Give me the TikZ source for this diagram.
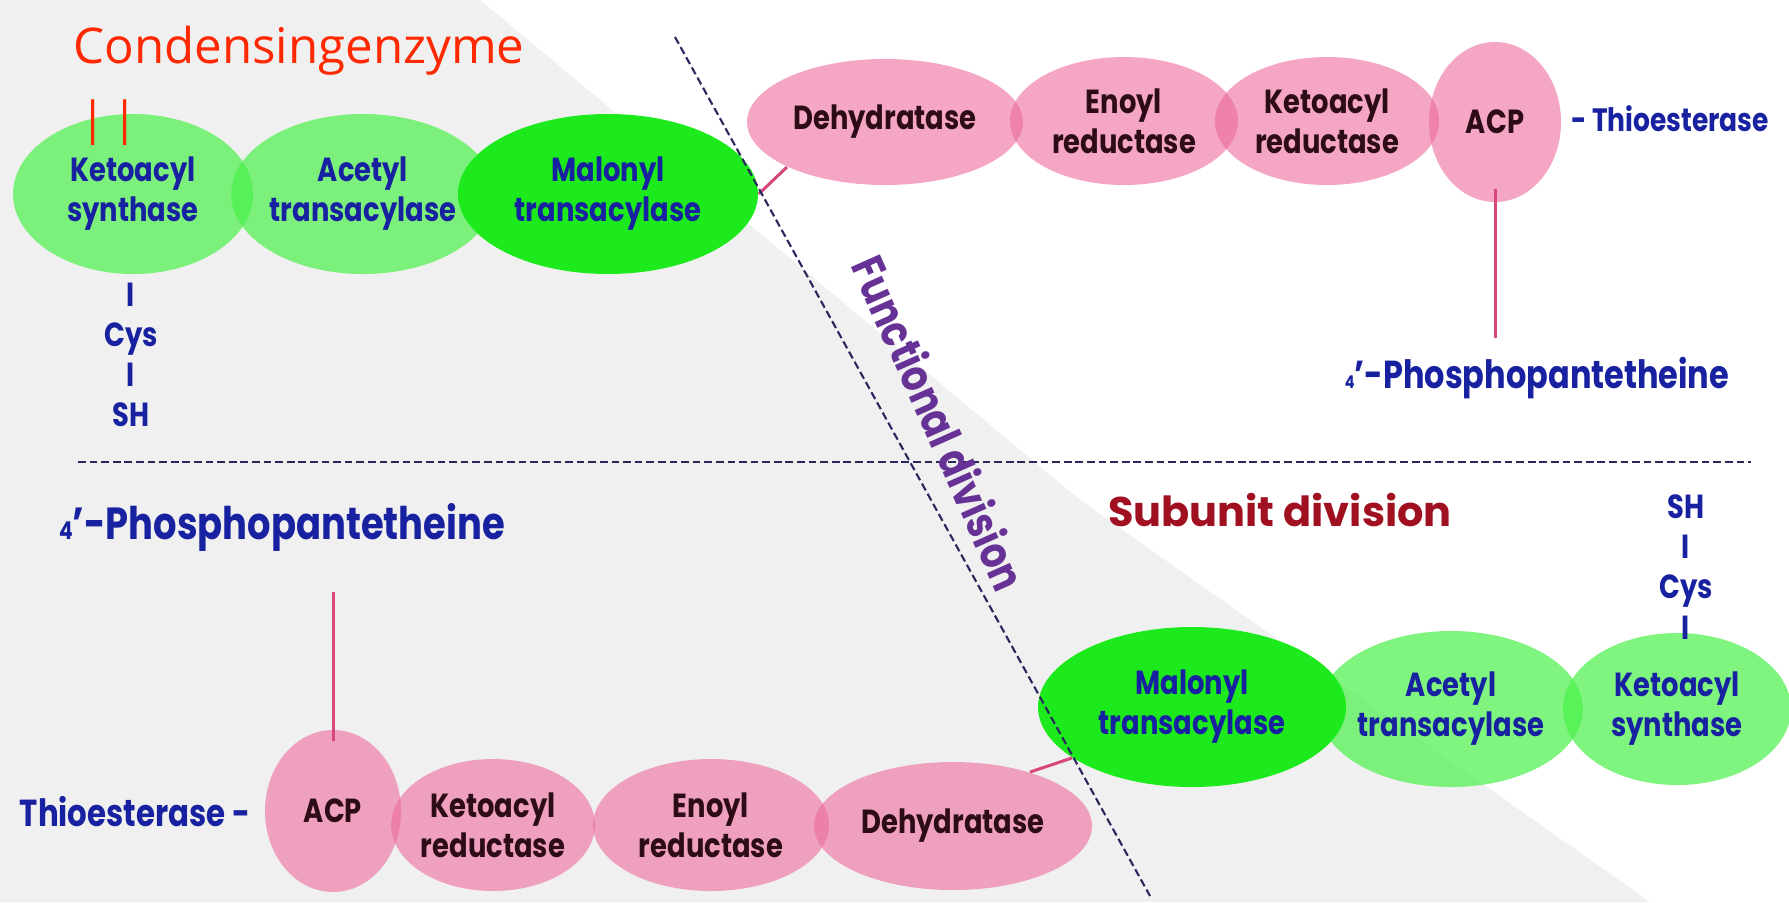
\documentclass[tikz,border=0pt]{standalone}
\usepackage{fontspec}
\setmainfont{Poppins}[FakeStretch=0.82]
\newfontfamily\widefont{Poppins}
\newfontfamily\handfont{Open Sans}
\usetikzlibrary{shapes.geometric}
\definecolor{lightgrn}{RGB}{74,241,74}
\definecolor{darkgrn}{RGB}{28,234,28}
\definecolor{blobpink}{RGB}{237,107,157}
\definecolor{linkpink}{RGB}{214,72,124}
\definecolor{enzblue}{RGB}{24,34,160}
\definecolor{enzdark}{RGB}{45,12,24}
\definecolor{divnavy}{RGB}{40,40,95}
\definecolor{divpurple}{RGB}{102,50,150}
\definecolor{subred}{RGB}{160,16,32}
\definecolor{penred}{RGB}{255,40,0}
\definecolor{bggray}{RGB}{240,240,240}
\newcommand{\enzfont}{\bfseries\fontsize{9.5}{11.4}\selectfont}

\begin{document}
\begin{tikzpicture}[x=0.1mm, y=-0.1mm,
blob/.style = {ellipse, inner sep=0pt, align=center, font=\enzfont, text opacity=1},
lgreen/.style = {blob, fill=lightgrn, fill opacity=0.7, text=enzblue},
dgreen/.style = {blob, fill=darkgrn, text=enzblue},
pinkblob/.style = {blob, fill=blobpink, fill opacity=0.6, text=enzdark},
sidetext/.style = {text=enzblue, font=\enzfont, align=center, inner sep=0pt},
link/.style = {linkpink, line width=0.85pt},
divline/.style = {divnavy, line width=0.6pt, dash pattern=on 2.2pt off 1.1pt}
                ]
    \fill[white] (0,0) rectangle (1789,902);
    \fill[bggray] (0,0) -- (480,0) -- (1080,500) -- (1650,902) -- (0,902) -- cycle;
    \useasboundingbox (0,0) rectangle (1789,902);
    % green part: synthase + transacylases
    \foreach \x/\y/\w/\h/\n/\t in {133/194/24mm/16mm/ks1/{Ketoacyl\\synthase}, 363/194/25.8mm/16mm/at1/{Acetyl\\transacylase}, 1451/709/25.8mm/15.6mm/at2/{Acetyl\\transacylase}, 1677/709/22.8mm/15.2mm/ks2/{Ketoacyl\\synthase}}
        \node[lgreen, minimum width=\w, minimum height=\h] (\n) at (\x,\y) {\t};
    \node[dgreen, minimum width=30mm, minimum height=16mm] (mt1) at (608,194) {Malonyl\\transacylase};
    \node[dgreen, minimum width=30.8mm, minimum height=16mm] (mt2) at (1192,707) {Malonyl\\transacylase};
    % pink part
    \foreach \x/\y/\w/\h/\n/\t in {885/122/27.6mm/12.6mm/dh1/Dehydratase, 1124/121/22.8mm/12.8mm/er1/{Enoyl\\reductase}, 1327/121/22.4mm/12.8mm/kr1/{Ketoacyl\\reductase}, 1495/122/13.2mm/16mm/acp1/ACP, 333/811/13.6mm/16.2mm/acp2/ACP, 493/825/20mm/13.2mm/kr2/{Ketoacyl\\reductase}, 711/825/23.6mm/13.2mm/er2/{Enoyl\\reductase}, 953/826/27.8mm/12.8mm/dh2/Dehydratase}
        \node[pinkblob, minimum width=\w, minimum height=\h] (\n) at (\x,\y) {\t};
    \node[sidetext, font=\bfseries\fontsize{9.2}{11}\selectfont] (thio1) at (1670,119) {- Thioesterase};
    \node[sidetext, font=\bfseries\fontsize{10.7}{12}\selectfont] (thio2) at (135,812) {Thioesterase -};
    \node[sidetext, font=\bfseries\fontsize{11.1}{13}\selectfont] (ppt1) at (1537,378) {{\tiny 4}’-Phosphopantetheine};
    \node[sidetext, font=\bfseries\fontsize{12.8}{15}\selectfont] (ppt2) at (282,527) {{\scriptsize 4}’-Phosphopantetheine};
    \node[sidetext] (cys1) at (131,355) {I\\Cys\\I\\SH};
    \node[sidetext] (cys2) at (1686,567) {SH\\I\\Cys\\I};
    \draw[link] (mt1.east) -- (dh1.south west);
    \draw[link] (dh2.35) -- (mt2.203);
    \draw[link] ([yshift=1.4mm]acp1.south) -- ([yshift=1.8mm]acp1.south |- ppt1.north);
    \draw[link] ([yshift=-1.2mm]acp2.north) -- ([yshift=-4mm]acp2.north |- ppt2.south);
    % division lines
    \coordinate (fdtop) at (675,37);
    \coordinate (fdbot) at (1150,896);
    \coordinate (sdleft) at (78,462);
    \coordinate (sdright) at (1751,462);
    \draw[divline] (sdleft) -- (sdright);
    \draw[divline] (fdtop) -- (fdbot);
    \node[text=divpurple, rotate=-66, font=\bfseries\fontsize{12.8}{14}\selectfont] (fdiv) at (940,423) {Functional division};
    \node[text=subred, font=\widefont\bfseries\fontsize{11.8}{14}\selectfont] (sdiv) at (1280,510) {Subunit division};
    % handwritten note
    \node[text=penred, font=\handfont\fontsize{14}{14}\selectfont] (pen) at (299,51) {Condensingenzyme};
    \node[text=penred, font=\handfont\fontsize{13}{13}\selectfont] (peneq) at (109,123) {|\,|};
\end{tikzpicture}
\end{document}
